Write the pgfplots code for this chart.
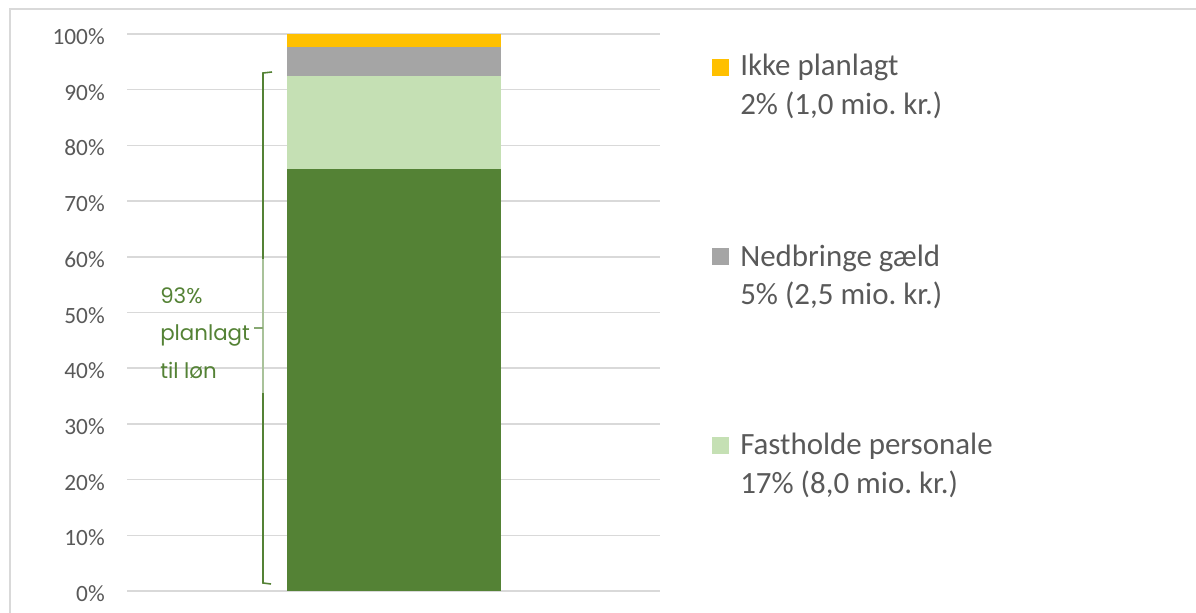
\documentclass[border=0pt]{standalone}
\usepackage{pgfplots}
\pgfplotsset{compat=1.18}
\usepackage{fontspec}
\setmainfont{Carlito}
\newfontfamily\brk{Poppins}
\definecolor{dg}{HTML}{548235}
\definecolor{lg}{HTML}{C5E0B4}
\definecolor{gy}{HTML}{A5A5A5}
\definecolor{yl}{HTML}{FFC000}
\definecolor{gridc}{HTML}{D9D9D9}
\definecolor{tickc}{HTML}{595959}
\definecolor{brkl}{HTML}{A9C29A}
\frenchspacing
\begin{document}
\begin{tikzpicture}
\path[use as bounding box] (0pt,0pt) rectangle (897pt,459pt);
\begin{axis}[
  at={(95.25pt,15.75pt)}, anchor=south west,
  scale only axis, width=399.75pt, height=417.75pt,
  xmin=0, xmax=1, ymin=0, ymax=100,
  enlargelimits=false,
  ybar stacked, bar width=160.5pt,
  axis line style={draw=none},
  xtick=\empty,
  ytick={0,10,...,100},
  ymajorgrids,
  grid style={color=gridc, line width=1.1pt},
  major tick length=0pt,
  yticklabel={\pgfmathprintnumber{\tick}\%},
  /pgf/number format/assume math mode=true,
  yticklabel style={font=\fontsize{17.5}{20}\selectfont, text=tickc, anchor=east, inner sep=0pt, xshift=-16.5pt, yshift=-2pt},
  clip=false,
]
\addplot[fill=dg, draw=none] coordinates {(0.5,75.8)};
\addplot[fill=lg, draw=none] coordinates {(0.5,16.7)};
\addplot[fill=gy, draw=none] coordinates {(0.5,5.2)};
\addplot[fill=yl, draw=none] coordinates {(0.5,2.3)};
\end{axis}
\begin{scope}[x=0.75pt, y=-0.75pt, shift={(0pt,459pt)}]
  % frame
  \draw[gridc, line width=1.1pt] (10,630) -- (10,9) -- (1210,9);
  % bracket
  \draw[dg, line width=1.2pt] (272,72) -- (263,73) -- (263,259);
  \draw[brkl, line width=1.2pt] (263,259) -- (263,393);
  \draw[dg, line width=1.2pt] (263,393) -- (263,583) -- (271,584);
  \draw[dg!70!white, line width=1.2pt] (254,328) -- (263,328);
  \node[anchor=base west, inner sep=0pt, text=dg, font=\brk\fontsize{16}{19}\selectfont] at (160,303) {93\%};
  \node[anchor=base west, inner sep=0pt, text=dg, font=\brk\fontsize{16}{19}\selectfont] at (160,340) {planlagt};
  \node[anchor=base west, inner sep=0pt, text=dg, font=\brk\fontsize{16}{19}\selectfont] at (160,378) {til løn};
  % legend
  \fill[yl] (712,59) rectangle (729,76);
  \node[anchor=base west, inner sep=0pt, text=tickc, font=\fontsize{23.2}{26}\selectfont] at (740,76) {Ikke planlagt};
  \node[anchor=base west, inner sep=0pt, text=tickc, font=\fontsize{23.2}{26}\selectfont] at (740,114) {2\% (1,0 mio. kr.)};
  \fill[gy] (712,248) rectangle (729,265);
  \node[anchor=base west, inner sep=0pt, text=tickc, font=\fontsize{23.2}{26}\selectfont] at (740,266) {Nedbringe gæld};
  \node[anchor=base west, inner sep=0pt, text=tickc, font=\fontsize{23.2}{26}\selectfont] at (740,304) {5\% (2,5 mio. kr.)};
  \fill[lg] (712,437) rectangle (729,454);
  \node[anchor=base west, inner sep=0pt, text=tickc, font=\fontsize{23.2}{26}\selectfont] at (740,454) {Fastholde personale};
  \node[anchor=base west, inner sep=0pt, text=tickc, font=\fontsize{23.2}{26}\selectfont] at (740,493) {17\% (8,0 mio. kr.)};
\end{scope}
\end{tikzpicture}
\end{document}
